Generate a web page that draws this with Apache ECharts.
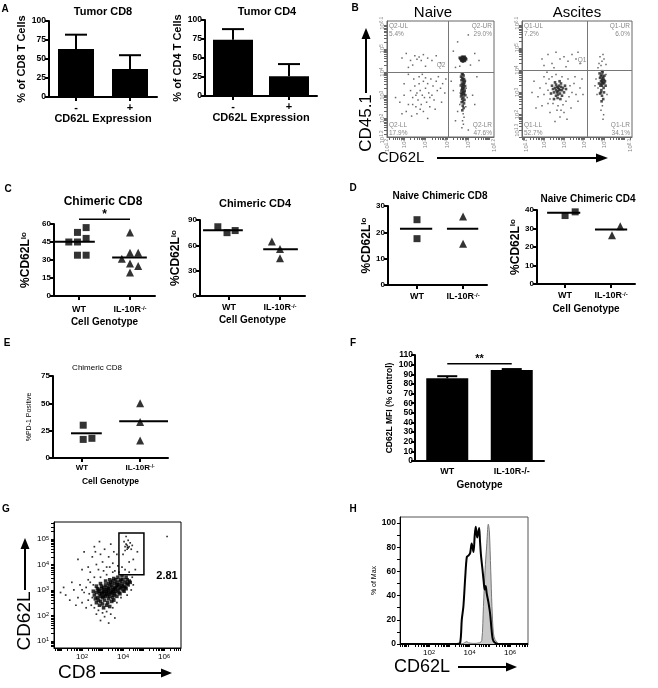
<!DOCTYPE html>
<html><head><meta charset="utf-8">
<script src="https://cdn.jsdelivr.net/npm/echarts@6/dist/echarts.min.js"></script>
<style>html,body{margin:0;padding:0;background:#fff}#c{width:658px;height:688px}</style>
</head><body><div id="c"></div><script>
const FONT='"Liberation Sans", Arial, Helvetica, sans-serif';
// ================= DATA =================
// Panel A
const barCats=['-','+'];
const tumorCD8Mean=[63,37], tumorCD8Sem=[19,18];
const tumorCD4Mean=[74,26], tumorCD4Sem=[14,16];
// Panel B (log10 units)
const naiveQuad=[4.05,4.0];
const ascitesQuad=[4.15,4.0];
const naiveLabels=['Q2-UL','5.4%','Q2-UR','29.0%','Q2-LL','17.9%','Q2-LR','47.6%','Q2'];
const ascitesLabels=['Q1-UL','7.2%','Q1-UR','6.0%','Q1-LL','52.7%','Q1-LR','34.1%','Q1'];
const naiveDense=[
[4.70,4.55],[4.75,4.6],[4.8,4.57],[4.72,4.62],[4.78,4.52],[4.68,4.6],[4.82,4.6],[4.74,4.5],[4.85,4.55],[4.65,4.55],[4.77,4.65],[4.7,4.48],[4.8,4.5],[4.73,4.58],[4.76,4.54],[4.62,4.58],[4.88,4.6],[4.79,4.63],[4.71,4.66],[4.84,4.48],[4.67,4.5],[4.9,4.55],[4.75,4.45],[4.6,4.62],[4.83,4.66],
[4.7,3.9],[4.78,3.85],[4.72,3.75],[4.8,3.7],[4.68,3.65],[4.75,3.6],[4.82,3.55],[4.7,3.5],[4.77,3.45],[4.65,3.42],[4.85,3.4],[4.72,3.35],[4.8,3.3],[4.74,3.25],[4.68,3.2],[4.83,3.2],[4.76,3.15],[4.7,3.1],[4.79,3.05],[4.73,3.0],[4.86,3.0],[4.66,2.95],[4.77,2.9],[4.71,2.85],[4.82,2.8],[4.75,2.75],[4.69,2.7],[4.8,2.65],[4.74,2.55],[4.78,2.45],[4.72,2.35],[4.75,3.7],[4.78,3.5],[4.71,3.28],[4.81,3.12],[4.68,3.05],[4.76,3.38],[4.84,3.62],[4.66,3.8],[4.74,3.92]];
const naiveSparse=[
[4.76,2.2],[4.8,2.05],[4.73,1.9],[4.77,1.75],[4.7,1.6],[4.9,3.3],[4.62,3.1],[4.95,2.9],[4.6,2.6],[4.88,2.5],
[4.3,3.2],[5.2,3.0],[4.5,2.3],[5.3,2.6],[4.4,1.9],[5.0,1.5],[4.2,3.6],[5.4,3.8],
[1.8,2.7],[2.0,3.0],[2.2,2.6],[2.3,3.2],[2.4,2.9],[2.5,3.4],[2.55,2.5],[2.6,3.1],[2.65,2.8],[2.7,3.5],[2.75,3.2],[2.8,2.6],[2.85,3.0],[2.9,3.6],[2.95,2.9],[3.0,3.3],[3.05,2.7],[3.1,3.5],[3.15,3.1],[3.2,2.5],[3.25,3.7],[3.3,3.0],[3.35,3.4],[3.4,2.8],[3.5,3.6],[3.55,3.2],[3.6,3.8],[3.7,3.3],[3.8,3.5],[3.9,3.1],[2.1,2.3],[2.35,2.1],[2.6,2.2],[2.9,2.3],[3.1,2.0],[2.45,3.7],[2.7,3.8],[2.0,3.5],[1.6,2.9],[1.9,2.2],[3.45,2.4],[3.75,2.7],[2.2,3.9],[2.85,3.9],[3.0,3.75],[2.55,3.0],[2.75,2.4],[3.2,2.9],[2.4,2.6],[3.95,3.7],
[1.9,4.6],[2.1,4.8],[2.3,4.5],[2.5,4.7],[2.6,4.55],[2.7,4.65],[2.8,4.5],[2.9,4.75],[3.1,4.6],[3.3,4.5],[3.5,4.7],[3.7,4.4],[2.4,4.3],[3.0,4.25],[2.2,4.2],
[4.3,4.9],[4.5,5.3],[5.1,4.3],[5.3,4.8],[4.4,4.2],[5.0,5.6],[4.6,4.25],[5.5,4.5]];
const ascitesDense=[
[2.6,3.1],[2.7,3.2],[2.8,3.1],[2.65,3.0],[2.75,3.3],[2.55,3.2],[2.85,3.25],[2.7,3.05],[2.6,3.35],[2.9,3.1],[2.5,3.0],[2.8,2.95],[2.75,3.15],[2.65,3.25],[2.95,3.2],[2.45,3.15],[2.7,2.9],[2.85,3.4],[2.6,2.85],[3.0,3.0],[2.4,3.3],[2.9,2.85],[2.55,3.45],[2.78,3.5],[3.05,3.3],[2.35,2.95],[2.68,2.75],[3.1,3.15],[2.5,2.7],[2.82,2.7],
[4.9,3.6],[4.95,3.7],[4.85,3.5],[5.0,3.55],[4.88,3.8],[4.92,3.45],[4.8,3.65],[5.02,3.75],[4.9,3.3],[4.95,3.4],[4.82,3.3],[4.98,3.2],[4.87,3.1],[5.05,3.5],[4.78,3.85],[4.93,3.9],[4.85,3.0],[5.0,3.0],[4.9,2.85],[4.8,2.95],[4.96,2.7],[4.88,2.6],[4.75,3.4],[5.08,3.3],[4.9,3.95],[4.84,3.72],[4.97,3.62],[4.91,3.52],[4.86,3.38],[5.01,3.42]];
const ascitesSparse=[
[2.2,3.1],[2.1,3.4],[2.3,2.7],[2.0,2.9],[2.25,3.6],[2.4,3.7],[2.6,3.8],[2.9,3.7],[3.2,3.6],[3.3,3.3],[3.4,3.0],[3.25,2.8],[3.1,2.6],[2.95,2.45],[2.7,2.4],[2.45,2.5],[2.2,2.5],[3.5,3.4],[3.6,2.9],[1.8,3.2],[1.7,2.8],[2.0,3.7],[1.9,2.4],[2.65,2.2],[3.0,2.1],[2.8,1.9],[3.55,3.7],[3.8,3.2],[3.7,2.6],[1.5,3.5],[1.6,2.3],[2.3,2.1],[3.35,2.3],[3.9,3.6],[2.55,1.7],[3.15,1.8],[1.4,3.0],[3.95,2.9],[2.85,2.2],[2.15,3.9],
[4.7,3.2],[5.1,3.8],[4.92,2.4],[4.85,2.2],[4.98,2.0],[4.6,3.6],[4.65,2.9],[5.15,2.9],[4.55,3.3],[4.95,1.8],
[1.9,4.5],[2.2,4.7],[2.4,4.3],[2.6,4.8],[2.8,4.5],[3.0,4.6],[3.2,4.4],[3.4,4.7],[3.6,4.5],[3.8,4.3],[2.5,4.1],[3.1,4.15],[2.0,4.2],[3.7,4.8],
[4.8,4.6],[4.9,4.4],[4.85,4.2],[5.0,4.5],[4.75,4.3],[4.95,4.7],[5.1,4.25],[4.7,4.1]];
// Panel C
const cCD8WT=[[-0.03,53],[0.14,57],[-0.2,45],[-0.03,45],[0.14,48],[-0.03,34],[0.14,34]];
const cCD8KO=[[1,53],[1,36],[1.16,36],[0.84,31],[1,27],[1.16,25],[1,19.5]];
const cCD8Means=[[-0.47,0.31,45.3],[0.65,1.33,32]];
const cCD8Sig=[[0,1,64,'*']];
const cCD4WT=[[-0.22,82],[-0.04,75],[0.12,77.5]];
const cCD4KO=[[0.84,64.4],[1.0,55.7],[1.0,44.7]];
const cCD4Means=[[-0.51,0.27,78],[0.67,1.35,55.3]];
// Panel D
const dCD8WT=[[0,24.8],[0,17.6]];
const dCD8KO=[[1,26],[1,15.7]];
const dCD8Means=[[-0.37,0.33,21.4],[0.65,1.33,21.4]];
const dCD4WT=[[0,37],[0.22,39]];
const dCD4KO=[[1.02,26.3],[1.2,31.2]];
const dCD4Means=[[-0.39,0.33,38.5],[0.65,1.35,29.4]];
// Panel E
const ePD1WT=[[0.02,30],[0.02,17],[0.17,18]];
const ePD1KO=[[1,50],[1,33],[1,16]];
const ePD1Means=[[-0.19,0.34,22.6],[0.64,1.48,33.5]];
// Panel F
const fCats=['WT','IL-10R-/-'];
const fMean=[85.8,94.4], fSem=[2.2,1.0];
const fSig=[[0,1,101,'**']];
// Panel G (log10 CD8, log10 CD62L)
const gDense=[
[2.6,2.8],[2.7,2.9],[2.75,2.7],[2.8,3.0],[2.85,2.85],[2.9,2.75],[2.95,3.05],[3.0,2.9],[3.0,2.7],[3.05,3.1],[3.1,2.85],[3.1,3.0],[3.15,2.75],[3.2,3.1],[3.2,2.95],[3.25,2.8],[3.3,3.05],[3.3,2.9],[3.35,3.15],[3.4,2.85],[3.4,3.0],[3.45,3.2],[3.5,2.95],[3.5,3.1],[3.55,2.8],[3.6,3.05],[3.6,3.25],[3.65,2.95],[3.7,3.15],[3.7,3.3],[3.75,3.0],[3.8,3.2],[3.8,2.9],[3.85,3.35],[3.9,3.1],[3.95,3.25],[4.0,3.0],[4.0,3.4],[4.05,3.15],[4.1,3.3],[4.15,3.05],[4.2,3.4],[4.25,3.2],[4.3,3.35],[2.9,2.55],[3.1,2.6],[3.3,2.65],[3.5,2.7],[3.25,2.5],[3.0,2.45],[3.45,2.55],[3.7,2.75],[2.7,3.15],[2.9,3.25],[3.15,3.35],[3.35,3.4],[3.55,3.45],[3.75,3.5],[3.95,3.55],[4.15,3.5],[3.05,2.95],[3.25,3.0],[3.45,2.9],[3.65,3.1],[3.85,3.05],[3.35,2.75],[3.55,3.0],[3.15,3.2],[2.95,2.85],[3.75,3.2],[3.95,3.15],[4.1,3.1],[3.6,2.85],[3.4,3.3],[3.2,2.85],[2.85,2.95],[2.65,2.65],[2.8,2.6],[3.05,2.75],[3.5,3.35],[3.9,3.4],[4.2,3.25],[4.35,3.3],[3.65,3.4],[3.3,3.25],[2.95,3.15],[2.55,2.95],[2.75,3.05],[3.85,2.85],[4.05,2.95],[3.55,2.6],[3.2,2.4],[2.85,2.4],[3.35,2.35],[3.05,2.3],[2.7,2.5]];
const gSparse=[
[1.2,2.8],[1.4,2.6],[1.6,3.0],[1.8,2.7],[1.9,3.2],[2.0,2.5],[2.1,2.9],[2.2,3.1],[2.3,2.6],[2.35,2.85],[2.4,3.3],[2.45,2.4],[2.5,2.7],[2.55,3.2],[2.3,3.4],[2.0,3.0],[1.7,2.4],[2.6,2.3],[2.8,2.2],[3.0,2.1],[3.2,2.15],[3.4,2.05],[3.5,2.3],[3.7,2.5],[3.9,2.7],[4.2,2.8],[4.4,3.0],[4.45,3.5],[4.3,3.7],[4.1,3.8],[3.8,3.7],[3.5,3.7],[3.2,3.6],[2.9,3.5],[2.6,3.5],[3.1,1.95],[2.9,1.8],[3.3,1.7],[2.7,2.05],[1.5,3.3],[2.2,2.3],[4.5,3.2],[3.6,1.9],[1.1,3.1],[0.95,2.9],
[1.8,4.2],[2.1,4.5],[2.3,3.9],[2.5,4.3],[2.6,4.7],[2.7,4.0],[2.8,3.8],[2.9,4.4],[3.0,4.1],[3.1,4.6],[3.2,3.9],[3.3,4.3],[3.4,4.8],[3.5,4.05],[3.6,3.75],[3.7,4.4],[2.4,3.7],[3.05,3.75],[3.35,3.9],[2.65,4.5],[3.55,4.5],[2.0,3.8],[3.75,3.95],[2.85,4.9],
[4.1,4.7],[4.2,4.75],[4.25,4.65],[4.15,4.8],[4.3,4.7],[4.2,4.6],[4.1,4.55],[4.35,4.85],[4.05,4.9],[4.25,4.95],[4.4,4.6],[4.0,4.4],[4.5,4.2],[4.3,4.1],[4.6,3.8],[3.95,3.9],[4.7,4.5],[4.15,5.1],[4.45,4.75],[4.22,4.68],
[6.15,5.1]];
const gGate=[[3.8,5.02,3.6,5.24]];
const gGatePct='2.81';
// Panel H (log10 CD62L, % of max)
const hStained=[[0.57,0],[3.38,0],[3.54,1],[3.62,20],[3.70,31],[3.79,55],[3.87,72],[3.95,73],[4.03,75],[4.11,83],[4.20,76],[4.26,90],[4.31,97],[4.38,88],[4.43,92],[4.48,96],[4.52,85],[4.57,73],[4.64,62],[4.70,52],[4.75,45],[4.80,48],[4.85,42],[4.93,35],[5.02,25],[5.08,14],[5.15,4],[5.26,1],[5.43,0],[6.89,0]];
const hControl=[[0.57,0],[3.62,0],[3.75,1],[3.87,2],[3.95,1],[4.2,0.5],[4.5,1],[4.61,3],[4.69,31],[4.77,61],[4.85,81],[4.93,99],[4.98,94],[5.05,61],[5.11,31],[5.18,9],[5.26,3.6],[5.34,2],[5.43,0],[6.89,0]];

// ================= BUILD =================
const grids=[],xAxes=[],yAxes=[],series=[],graphic=[];
function addGrid(l,t,w,h,extra){grids.push(Object.assign({left:l,top:t,width:w,height:h,outerBoundsMode:'none',containLabel:false},extra||{}));return grids.length-1;}
const blk={color:'#000'};
const axLine={show:true,onZero:false,lineStyle:{color:'#000',width:2}};
const axTick={show:true,length:4,lineStyle:{color:'#000',width:2}};
function txt(x,y,s,o){o=o||{};return {type:'text',x:x,y:y,rotation:o.rot||0,z:50,style:{text:s,fontFamily:FONT,fontSize:o.fs||11,fontWeight:o.fw||'normal',fill:o.fill||'#000',align:o.align||'center',verticalAlign:'middle'}};}
function arrow(x1,y1,x2,y2,lw,hl,hw){
  const dx=x2-x1,dy=y2-y1,L=Math.hypot(dx,dy),ux=dx/L,uy=dy/L;
  const bx=x2-ux*hl,by=y2-uy*hl;
  graphic.push({type:'line',z:50,shape:{x1:x1,y1:y1,x2:bx,y2:by},style:{stroke:'#000',lineWidth:lw}});
  graphic.push({type:'polygon',z:50,shape:{points:[[x2,y2],[bx-uy*hw,by+ux*hw],[bx+uy*hw,by-ux*hw]]},style:{fill:'#000'}});
}
function supRich(fs,fw){return {n:{fontSize:fs,fontWeight:fw,fontFamily:FONT,color:'#000'},s:{fontSize:Math.round(fs*0.65),fontWeight:fw,fontFamily:FONT,color:'#000',verticalAlign:'top'}};}
function logFmt(v){return '{b|10}{s|'+(+v.toFixed(1))+'}';}
function logTicks(a,b){const t=[];for(let d=Math.floor(a);d<=b;d++){for(let k=1;k<10;k++){const v=d+Math.log10(k);if(v>=a-1e-6&&v<=b+1e-6)t.push(+v.toFixed(3));}}return t;}

function errSeries(gi,means,sems,half){
  return {type:'custom',xAxisIndex:gi,yAxisIndex:gi,z:5,data:means.map((m,i)=>[i,m,sems[i]]),
    renderItem:function(p,api){const x=api.value(0),m=api.value(1),e=api.value(2);
      const a=api.coord([x,m]),b=api.coord([x,m+e]);
      return {type:'group',children:[
        {type:'line',shape:{x1:a[0],y1:a[1],x2:b[0],y2:b[1]},style:{stroke:'#000',lineWidth:2}},
        {type:'line',shape:{x1:b[0]-half,y1:b[1],x2:b[0]+half,y2:b[1]},style:{stroke:'#000',lineWidth:2}}]};}};
}
function meanSeries(gi,rows){
  return {type:'custom',xAxisIndex:gi,yAxisIndex:gi,z:6,data:rows,
    renderItem:function(p,api){const a=api.coord([api.value(0),api.value(2)]),b=api.coord([api.value(1),api.value(2)]);
      return {type:'line',shape:{x1:a[0],y1:a[1],x2:b[0],y2:b[1]},style:{stroke:'#000',lineWidth:2}};}};
}
function sigSeries(gi,rows,fs,yo){
  return {type:'custom',xAxisIndex:gi,yAxisIndex:gi,z:6,clip:false,data:rows,
    renderItem:function(p,api){const a=api.coord([api.value(0),api.value(2)]),b=api.coord([api.value(1),api.value(2)]);
      return {type:'group',children:[
        {type:'line',shape:{x1:a[0],y1:a[1],x2:b[0],y2:b[1]},style:{stroke:'#000',lineWidth:1.5}},
        {type:'text',x:(a[0]+b[0])/2,y:a[1]+yo,style:{text:rows[p.dataIndex][3],fontSize:fs,fontWeight:'bold',fontFamily:FONT,fill:'#000',align:'center',verticalAlign:'middle'}}]};}};
}

// ---------- Panel A ----------
function barPanel(l,t,w,h,means,sems,bw,yName,yGap){
  const gi=addGrid(l,t,w,h);
  xAxes.push({gridIndex:gi,type:'category',data:barCats,axisLine:axLine,axisTick:Object.assign({alignWithLabel:true},axTick),
    axisLabel:{fontSize:11,fontWeight:'bold',color:'#000',fontFamily:FONT,margin:5},
    name:'CD62L Expression',nameLocation:'middle',nameGap:16,nameTextStyle:{fontSize:11,fontWeight:'bold',fontFamily:FONT,color:'#000'}});
  yAxes.push({gridIndex:gi,type:'value',min:0,max:100,interval:25,axisLine:axLine,axisTick:axTick,splitLine:{show:false},
    axisLabel:{fontSize:8.5,fontWeight:'bold',color:'#000',fontFamily:FONT,margin:3},
    name:yName,nameLocation:'middle',nameGap:yGap,nameTextStyle:{fontSize:11,fontWeight:'bold',fontFamily:FONT,color:'#000'}});
  series.push({type:'bar',xAxisIndex:gi,yAxisIndex:gi,data:means,barWidth:bw,itemStyle:blk});
  series.push(errSeries(gi,means,sems,11));
}
barPanel(49,21,108,76,tumorCD8Mean,tumorCD8Sem,36,'% of CD8 T Cells',19);
barPanel(205,20,112,76,tumorCD4Mean,tumorCD4Sem,40,'% of CD4 T Cells',16);

// ---------- Panel B ----------
function flowPanel(l,t,w,h,xr,yr,xl,yl,dense,sparse,quad){
  const gi=addGrid(l,t,w,h,{show:true,borderColor:'#666',borderWidth:1});
  const lab={rotate:90,fontSize:6,color:'#888',margin:2,formatter:logFmt,rich:{b:{fontSize:6,color:'#888'},s:{fontSize:4.5,color:'#888',verticalAlign:'top'}}};
  xAxes.push({gridIndex:gi,type:'value',min:xr[0],max:xr[1],splitLine:{show:false},axisLine:{onZero:false,lineStyle:{color:'#666',width:1}},
    axisTick:{length:3,lineStyle:{color:'#666'},customValues:logTicks(xr[0],xr[1])},axisLabel:Object.assign({customValues:xl},lab)});
  yAxes.push({gridIndex:gi,type:'value',min:yr[0],max:yr[1],splitLine:{show:false},axisLine:{onZero:false,lineStyle:{color:'#666',width:1}},
    axisTick:{length:3,lineStyle:{color:'#666'},customValues:logTicks(yr[0],yr[1])},axisLabel:Object.assign({customValues:yl},lab)});
  series.push({type:'scatter',xAxisIndex:gi,yAxisIndex:gi,data:sparse,symbol:'rect',symbolSize:1.5,itemStyle:{color:'#444'},
    markLine:{silent:true,symbol:'none',label:{show:false},lineStyle:{color:'#777',width:1,type:'solid'},data:[{xAxis:quad[0]},{yAxis:quad[1]}]}});
  series.push({type:'scatter',xAxisIndex:gi,yAxisIndex:gi,data:dense,symbol:'rect',symbolSize:2.6,itemStyle:{color:'#222'}});
}
flowPanel(387,21,107,116,[1.2,6.2],[1.2,6.2],[1.2,2,3,4,5,6.2],[1.2,2,3,4,5,6.1],naiveDense,naiveSparse,naiveQuad);
flowPanel(522,21,110,116,[0.9,6.4],[1.0,6.2],[1.1,2,3,4,5,6.3],[1.3,2,3,4,5,6.1],ascitesDense,ascitesSparse,ascitesQuad);

// ---------- Dot panels (C, D, E) ----------
function genoFmt(v){return v<0.5?'{n|WT}':'{n|IL-10R}{s|-/-}';}
function dotPanel(l,t,w,h,xr,ymax,yint,wt,ko,means,o){
  const gi=addGrid(l,t,w,h);
  const xa={gridIndex:gi,type:'value',min:xr[0],max:xr[1],splitLine:{show:false},axisLine:axLine,
    axisTick:Object.assign({customValues:[0,1]},axTick),
    axisLabel:{customValues:[0,1],formatter:genoFmt,margin:o.lm,rich:supRich(o.lfs,'bold')}};
  if(o.xname){Object.assign(xa,{name:'Cell Genotype',nameLocation:'middle',nameGap:o.xgap,nameTextStyle:{fontSize:o.xfs,fontWeight:'bold',fontFamily:FONT,color:'#000'}});}
  xAxes.push(xa);
  yAxes.push({gridIndex:gi,type:'value',min:0,max:ymax,interval:yint,splitLine:{show:false},axisLine:axLine,axisTick:axTick,
    axisLabel:{fontSize:o.yfs,fontWeight:'bold',color:'#000',fontFamily:FONT,margin:3},
    name:o.yname,nameLocation:'middle',nameGap:o.ygap,nameTextStyle:{rich:o.yrich}});
  series.push({type:'scatter',xAxisIndex:gi,yAxisIndex:gi,data:wt,symbol:'rect',symbolSize:o.ss,itemStyle:blk,z:4});
  series.push({type:'scatter',xAxisIndex:gi,yAxisIndex:gi,data:ko,symbol:'triangle',symbolSize:o.ts,itemStyle:blk,z:4});
  series.push(meanSeries(gi,means));
  return gi;
}
const lo12={n:{fontSize:12,fontWeight:'bold',fontFamily:FONT,color:'#000'},s:{fontSize:8,fontWeight:'bold',fontFamily:FONT,color:'#000',verticalAlign:'top'}};
const cName='{n|%CD62L}{s|lo}';
const gC1=dotPanel(54,224,101,72,[-0.49,1.49],60,15,cCD8WT,cCD8KO,cCD8Means,{lm:9,lfs:9,xname:true,xgap:21,xfs:10,yfs:8,yname:cName,ygap:22,yrich:lo12,ss:7,ts:8});
series.push(sigSeries(gC1,cCD8Sig,12,-5));
dotPanel(200,220,105,76,[-0.57,1.49],90,30,cCD4WT,cCD4KO,cCD4Means,{lm:7,lfs:9,xname:true,xgap:19,xfs:10,yfs:8,yname:cName,ygap:18,yrich:lo12,ss:7,ts:8});
dotPanel(388,206,99,79,[-0.63,1.52],30,10,dCD8WT,dCD8KO,dCD8Means,{lm:7,lfs:9,xname:false,yfs:8,yname:cName,ygap:14,yrich:lo12,ss:7,ts:8});
dotPanel(537,210,98,74,[-0.61,1.52],40,10,dCD4WT,dCD4KO,dCD4Means,{lm:7,lfs:9,xname:true,xgap:20,xfs:10,yfs:8,yname:cName,ygap:15,yrich:lo12,ss:7,ts:8});
const pdRich={n:{fontSize:7,fontFamily:FONT,color:'#000'}};
dotPanel(53,376,115,82,[-0.5,1.48],75,25,ePD1WT,ePD1KO,ePD1Means,{lm:6,lfs:8,xname:true,xgap:19,xfs:8.5,yfs:8,yname:'{n|%PD-1 Positive}',ygap:20,yrich:pdRich,ss:7,ts:8});

// ---------- Panel F ----------
(function(){
  const gi=addGrid(415,355,129,106);
  xAxes.push({gridIndex:gi,type:'category',data:fCats,axisLine:axLine,axisTick:{show:false},
    axisLabel:{fontSize:9,fontWeight:'bold',color:'#000',fontFamily:FONT,margin:6},
    name:'Genotype',nameLocation:'middle',nameGap:19,nameTextStyle:{fontSize:10,fontWeight:'bold',fontFamily:FONT,color:'#000'}});
  yAxes.push({gridIndex:gi,type:'value',min:0,max:110,interval:10,splitLine:{show:false},axisLine:axLine,axisTick:axTick,
    axisLabel:{fontSize:8.5,fontWeight:'bold',color:'#000',fontFamily:FONT,margin:2},
    name:'CD62L MFI (% control)',nameLocation:'middle',nameGap:21,nameTextStyle:{fontSize:8.5,fontWeight:'bold',fontFamily:FONT,color:'#000'}});
  series.push({type:'bar',xAxisIndex:gi,yAxisIndex:gi,data:fMean,barWidth:42,itemStyle:blk});
  series.push(errSeries(gi,fMean,fSem,10));
  series.push(sigSeries(gi,fSig,11,-5));
})();

// ---------- Panel G ----------
(function(){
  const gi=addGrid(54,522,127,126,{show:true,borderColor:'#000',borderWidth:1});
  const lab={fontSize:8,color:'#000',fontFamily:FONT,formatter:logFmt,rich:{b:{fontSize:8,color:'#000'},s:{fontSize:5.5,color:'#000',verticalAlign:'top'}}};
  xAxes.push({gridIndex:gi,type:'value',min:0.63,max:6.83,splitLine:{show:false},axisLine:{onZero:false,lineStyle:{color:'#000',width:1}},
    axisTick:{length:3,lineStyle:{color:'#000'},customValues:logTicks(0.63,6.83)},axisLabel:Object.assign({customValues:[2,4,6],margin:5},lab)});
  yAxes.push({gridIndex:gi,type:'value',min:0.72,max:5.67,splitLine:{show:false},axisLine:{onZero:false,lineStyle:{color:'#000',width:1}},
    axisTick:{length:3,lineStyle:{color:'#000'},customValues:logTicks(0.72,5.67)},axisLabel:Object.assign({customValues:[1,2,3,4,5],margin:5},lab)});
  series.push({type:'scatter',xAxisIndex:gi,yAxisIndex:gi,data:gSparse,symbol:'rect',symbolSize:1.7,itemStyle:{color:'#000'}});
  series.push({type:'scatter',xAxisIndex:gi,yAxisIndex:gi,data:gDense,symbol:'rect',symbolSize:3.6,itemStyle:{color:'#000'}});
  series.push({type:'custom',xAxisIndex:gi,yAxisIndex:gi,z:6,data:gGate,renderItem:function(p,api){
    const a=api.coord([api.value(0),api.value(3)]),b=api.coord([api.value(1),api.value(2)]);
    return {type:'rect',shape:{x:a[0],y:a[1],width:b[0]-a[0],height:b[1]-a[1]},style:{fill:'none',stroke:'#000',lineWidth:1.5}};}});
})();

// ---------- Panel H ----------
(function(){
  const gi=addGrid(400,517,128,127,{show:true,borderColor:'#555',borderWidth:1});
  xAxes.push({gridIndex:gi,type:'value',min:0.57,max:6.89,splitLine:{show:false},axisLine:{onZero:false,lineStyle:{color:'#000',width:1}},
    axisTick:{length:3,lineStyle:{color:'#000'},customValues:logTicks(0.57,6.89)},
    axisLabel:{customValues:[2,4,6],margin:5,formatter:logFmt,rich:{b:{fontSize:8,color:'#000'},s:{fontSize:5.5,color:'#000',verticalAlign:'top'}}}});
  yAxes.push({gridIndex:gi,type:'value',min:0,max:105,splitLine:{show:false},axisLine:{onZero:false,lineStyle:{color:'#000',width:1}},
    axisTick:{length:3,lineStyle:{color:'#000'},customValues:[0,10,20,30,40,50,60,70,80,90,100]},
    axisLabel:{customValues:[0,20,40,60,80,100],fontSize:8.5,fontWeight:'bold',color:'#000',fontFamily:FONT,margin:4},
    name:'% of Max',nameLocation:'middle',nameGap:20,nameTextStyle:{fontSize:7,fontFamily:FONT,color:'#000'}});
  series.push({type:'line',xAxisIndex:gi,yAxisIndex:gi,data:hControl,symbol:'none',smooth:0.3,z:3,
    lineStyle:{color:'#777',width:1},areaStyle:{color:'#c9c9c9',opacity:1}});
  series.push({type:'line',xAxisIndex:gi,yAxisIndex:gi,data:hStained,symbol:'none',smooth:0.3,z:4,
    lineStyle:{color:'#000',width:2}});
})();

// ---------- Text annotations ----------
[['A',5,9],['B',355,8],['C',8,189],['D',353,188],['E',7,343],['F',353,343],['G',6,509],['H',353,509]].forEach(a=>graphic.push(txt(a[1],a[2],a[0],{fs:10,fw:'bold'})));
graphic.push(txt(103,12,'Tumor CD8',{fs:11,fw:'bold'}));
graphic.push(txt(267,12,'Tumor CD4',{fs:11,fw:'bold'}));
graphic.push(txt(433,13,'Naive',{fs:15}));
graphic.push(txt(577,13,'Ascites',{fs:15}));
graphic.push(txt(103,202,'Chimeric CD8',{fs:12,fw:'bold'}));
graphic.push(txt(255,204,'Chimeric CD4',{fs:11,fw:'bold'}));
graphic.push(txt(440,196,'Naive Chimeric CD8',{fs:10,fw:'bold'}));
graphic.push(txt(588,199,'Naive Chimeric CD4',{fs:10,fw:'bold'}));
graphic.push(txt(97,368,'Chimeric CD8',{fs:8}));
graphic.push(txt(167,576,gGatePct,{fs:11,fw:'bold'}));
function quadText(L,x0,x1,y0,y1,qx,qy){
  const o={fs:6.5,fill:'#888'};
  graphic.push(txt(x0,y0,L[0],Object.assign({align:'left'},o)));graphic.push(txt(x0,y0+8,L[1],Object.assign({align:'left'},o)));
  graphic.push(txt(x1,y0,L[2],Object.assign({align:'right'},o)));graphic.push(txt(x1,y0+8,L[3],Object.assign({align:'right'},o)));
  graphic.push(txt(x0,y1,L[4],Object.assign({align:'left'},o)));graphic.push(txt(x0,y1+8,L[5],Object.assign({align:'left'},o)));
  graphic.push(txt(x1,y1,L[6],Object.assign({align:'right'},o)));graphic.push(txt(x1,y1+8,L[7],Object.assign({align:'right'},o)));
  graphic.push(txt(qx,qy,L[8],o));
}
quadText(naiveLabels,389,492,26,125,441,65);
quadText(ascitesLabels,524,630,26,125,582,60);
graphic.push(txt(366,123,'CD45.1',{fs:17,rot:Math.PI/2}));
arrow(366,93,366,28,2,11,4.5);
graphic.push(txt(401,158,'CD62L',{fs:15}));
arrow(437,158,608,158,2,12,4.5);
graphic.push(txt(25,621,'CD62L',{fs:19,rot:Math.PI/2}));
arrow(25,590,25,538,2,11,4.5);
graphic.push(txt(77,673,'CD8',{fs:19}));
arrow(100,673,172,673,2,11,4.5);
graphic.push(txt(422,667,'CD62L',{fs:18}));
arrow(458,667,517,667,2,11,4.5);

const chart=echarts.init(document.getElementById('c'),null,{renderer:'canvas'});
chart.setOption({animation:false,backgroundColor:'#fff',textStyle:{fontFamily:FONT},grid:grids,xAxis:xAxes,yAxis:yAxes,series:series,graphic:graphic});
</script></body></html>
